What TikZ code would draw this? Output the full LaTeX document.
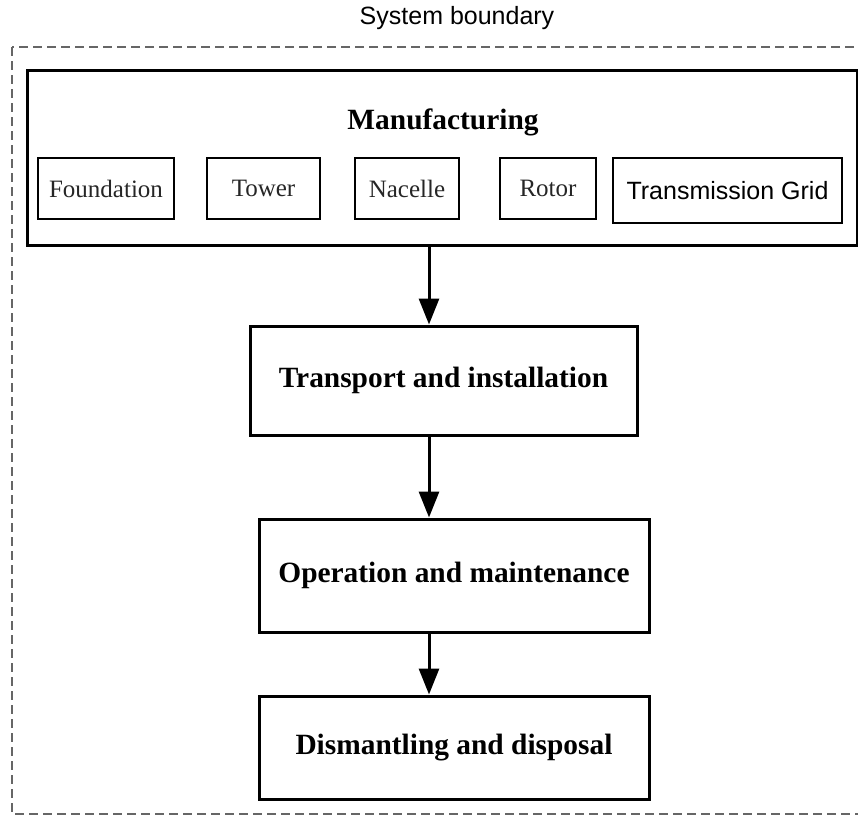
\documentclass[tikz,border=0pt]{standalone}
\usepackage{fontspec}
\setmainfont{Liberation Serif}
\setsansfont{Liberation Sans}
\usetikzlibrary{arrows.meta}

\begin{document}
\begin{tikzpicture}[x=0.5pt,y=-0.5pt,>={Triangle[width=10pt,length=13pt]}]
                \tikzstyle{stage}=[rectangle,draw=black,line width=1.5pt,minimum width=195pt,font=\fontsize{14.7}{17}\selectfont\bfseries,inner sep=0pt]
                \tikzstyle{part}=[rectangle,draw=black,line width=1pt,minimum height=30.5pt,font=\fontsize{12.5}{15}\selectfont,text=black!85,inner sep=0pt]
                \useasboundingbox (0,0) rectangle (858,816);
                \clip (0,0) rectangle (858,816);
                \draw[black!60,line width=0.8pt,dash pattern=on 4.5pt off 2.5pt] (12,47) rectangle (870,814);
                        \node[font=\sffamily\fontsize{12.5}{15}\selectfont] (title) at (457,18) {System boundary};
                        \node[stage,minimum width=415pt,minimum height=87.5pt] (manuf) at (442,157.5) {};
                        \node[font=\fontsize{14.7}{17}\selectfont\bfseries] (manuf-label) at (443,122) {Manufacturing};
                        \node[part,minimum width=68pt] (foundation) at (106,188.5) {Foundation};
                        \node[part,minimum width=56.5pt] (tower) at (263.5,188.5) {Tower};
                        \node[part,minimum width=52pt] (nacelle) at (407,188.5) {Nacelle};
                        \node[part,minimum width=48pt] (rotor) at (548,188.5) {Rotor};
                        \node[part,line width=1.25pt,minimum width=114.5pt,minimum height=32.5pt,font=\sffamily\fontsize{12.5}{15}\selectfont,text=black] (grid) at (727.5,190.5) {Transmission Grid};
                        \node[stage,minimum width=193.5pt,minimum height=54.5pt] (transport) at (443.5,380.5) {Transport and installation};
                        \node[stage,minimum height=56.5pt] (operation) at (454,575.5) {Operation and maintenance};
                        \node[stage,minimum height=51.5pt] (dismantling) at (454,747.5) {Dismantling and disposal};
                        \coordinate (axis) at (429,0);

                    \foreach \from/\to in {manuf/transport, transport/operation, operation/dismantling}
                        \draw[->,line width=1.5pt] (\from.south -| axis) -- (\to.north -| axis);
            \end{tikzpicture}
\end{document}
